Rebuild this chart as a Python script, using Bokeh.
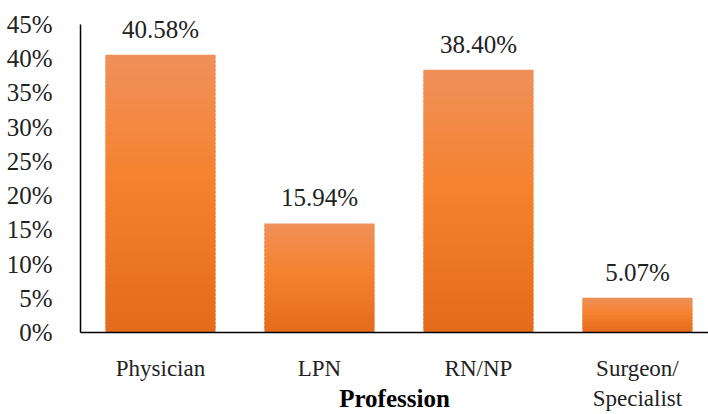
from bokeh.plotting import figure
from bokeh.models import (ColumnDataSource, Range1d, FixedTicker, PrintfTickFormatter,
                          LabelSet)
from bokeh.embed import file_html
from bokeh.resources import INLINE

# Share of respondents by profession (percent)
professions = ["Physician", "LPN", "RN/NP", "Surgeon/\nSpecialist"]
shares = [40.58, 15.94, 38.40, 5.07]
value_labels = ["40.58%", "15.94%", "38.40%", "5.07%"]
y_ticks = [0, 5, 10, 15, 20, 25, 30, 35, 40, 45]

FONT = "Liberation Serif"
TEXT = "#222222"

# vertical gradient stops for the bars (fraction of bar height -> colour)
stops = [(0.0, (0xE3, 0x6B, 0x1B)), (0.55, (0xF5, 0x82, 0x2E)), (1.0, (0xF0, 0x90, 0x5A))]


def grad(t):
    for (t0, c0), (t1, c1) in zip(stops[:-1], stops[1:]):
        if t <= t1:
            f = (t - t0) / (t1 - t0)
            return "#%02x%02x%02x" % tuple(round(a + (b - a) * f) for a, b in zip(c0, c1))
    return "#%02x%02x%02x" % stops[-1][1]


xs = list(range(len(professions)))
bar_w = 0.692
seg = dict(left=[], right=[], bottom=[], top=[], color=[])
for x, v in zip(xs, shares):
    # each bar is built from thin horizontal bands to give a vertical gradient
    n = max(10, round(v / 0.6))
    step = v / n
    for k in range(n):
        seg["left"].append(x - bar_w / 2)
        seg["right"].append(x + bar_w / 2)
        seg["bottom"].append(step * k)
        # bands overlap the next one slightly so no seams show
        seg["top"].append(min(v, step * (k + 1.6)))
        seg["color"].append(grad((k + 0.5) / n))

p = figure(width=708, height=414, output_backend="svg", toolbar_location=None,
           x_range=Range1d(-0.503, 3.447), y_range=Range1d(0, 48.5),
           min_border_left=80, min_border_right=0, min_border_top=0, min_border_bottom=82)
p.outline_line_color = None
p.xgrid.visible = False
p.ygrid.visible = False
p.background_fill_color = "white"
p.border_fill_color = "white"

p.quad(left="left", right="right", bottom="bottom", top="top", source=ColumnDataSource(seg),
       fill_color="color", line_color=None)

src = ColumnDataSource(dict(x=xs, y=shares, label=value_labels))
p.add_layout(LabelSet(x="x", y="y", text="label", source=src, text_align="center",
                      text_baseline="bottom", y_offset=12, text_font=FONT,
                      text_font_size="25px", text_color=TEXT))

# y axis, drawn from 0% to 45%
ya = p.yaxis[0]
ya.bounds = (0, 45)
ya.ticker = FixedTicker(ticks=y_ticks)
ya.formatter = PrintfTickFormatter(format="%d%%")
ya.major_tick_line_color = None
ya.minor_tick_line_color = None
ya.axis_line_color = "black"
ya.axis_line_width = 1.5
ya.major_label_standoff = 22
ya.major_label_text_font = FONT
ya.major_label_text_font_size = "25px"
ya.major_label_text_color = TEXT

# x axis with category names and the axis title
xa = p.xaxis[0]
xa.ticker = FixedTicker(ticks=xs)
xa.major_label_overrides = {x: name for x, name in zip(xs, professions)}
xa.major_tick_line_color = None
xa.minor_tick_line_color = None
xa.axis_line_color = "black"
xa.axis_line_width = 1.5
xa.major_label_standoff = 17
xa.major_label_text_font = FONT
xa.major_label_text_font_size = "23px"
xa.major_label_text_color = TEXT
xa.axis_label = "Profession"
xa.axis_label_standoff = -29
xa.axis_label_text_font = FONT
xa.axis_label_text_font_size = "25px"
xa.axis_label_text_font_style = "bold"
xa.axis_label_text_color = "black"

open("out.html", "w").write(file_html(p, INLINE))
